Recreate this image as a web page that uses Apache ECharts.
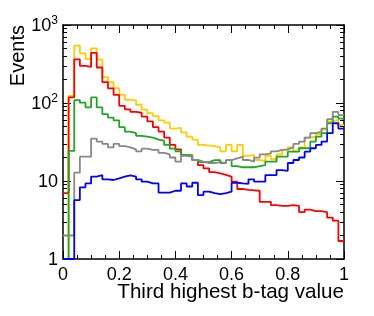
<!DOCTYPE html>
<html><head><meta charset="utf-8">
<script src="https://cdn.jsdelivr.net/npm/echarts@6/dist/echarts.min.js"></script>
<style>html,body{margin:0;padding:0;background:#fff}#c{width:374px;height:316px}</style>
</head><body><div id="c"></div>
<script>
const binWidth = 0.02;
const xTickLabels = ['0', '0.2', '0.4', '0.6', '0.8', '1'];
const yMinorTicks = [2,3,4,5,6,7,8,9,20,30,40,50,60,70,80,90,200,300,400,500,600,700,800,900];

const yellow = [1, 123, 545, 434, 365, 503, 360, 215, 185, 155, 128, 110, 108, 95, 82, 74, 68, 60, 56, 47, 48, 42, 37, 34, 29, 28.5, 28, 27, 24, 29, 24, 29, 21, 21.5, 18.6, 18, 21, 19, 22, 25, 27, 24, 27, 36, 37, 40, 46, 58, 61, 52];
const red = [7, 118, 363, 300, 290, 440, 285, 185, 154, 127, 92, 83, 77, 75, 67, 58, 49, 43, 36, 29, 25.5, 21.5, 21, 18.6, 16, 14.5, 13, 12.5, 12, 11.4, 9.8, 7.9, 7.7, 7.6, 7.5, 5.4, 5.4, 4.9, 4.8, 4.8, 4.9, 4.8, 4.0, 4.3, 4.1, 4.1, 4.0, 3.4, 3.1, 1.7];
const green = [1, 24.3, 109, 101, 88, 118, 88, 72, 65, 60, 49, 43, 41, 38, 37, 36, 34, 33, 29, 26, 24, 21.5, 21.5, 18.6, 17.5, 17.5, 18.5, 18.5, 17, 18.5, 15.5, 15, 15, 15, 15.5, 16, 17.7, 17.7, 20.5, 20.5, 23.8, 23.8, 26.3, 26.3, 32, 37, 41, 55, 67, 63];
const gray = [2, 2, 12.8, 20.5, 20.5, 35, 32, 30, 27, 30, 28, 27, 25.5, 24, 26, 25, 25, 23, 22, 20, 17.7, 21, 20.5, 18.6, 17.7, 17, 17, 17.5, 17, 18.5, 19.5, 20.5, 18.6, 17.7, 19.9, 22, 22.6, 24, 25, 25.5, 27, 30, 32, 36, 41, 43, 47, 62, 77, 70];
const blue = [1, 1, 5.7, 8.3, 9.3, 11.4, 11.9, 10.5, 10.3, 10.8, 11.4, 11.8, 11.4, 10.5, 9.8, 9.3, 9.3, 7.1, 7.1, 7.5, 7.5, 9.3, 8.5, 9.5, 6.6, 7.3, 7.0, 6.8, 7.0, 7.3, 9.5, 9.3, 9.2, 10.5, 9.8, 9.8, 11.9, 11.9, 13.8, 13.5, 17, 18.6, 20, 23.8, 26.3, 29, 32, 41, 55, 47];

function stepData(vals) {
  const d = vals.map((v, i) => [+(i * binWidth).toFixed(2), v]);
  d.push([+(vals.length * binWidth).toFixed(2), vals[vals.length - 1]]);
  return d;
}
const FONT = 'Liberation Sans';
const axisLineStyle = {color: '#000', width: 1.5};
function xAxisDef(pos, showLabel) {
  return {
    type: 'value', min: 0, max: 1, interval: 0.2, position: pos,
    axisLine: {show: true, onZero: false, lineStyle: axisLineStyle},
    axisTick: {show: true, inside: true, length: 8, lineStyle: {color: '#000', width: 1}},
    minorTick: {show: true, splitNumber: 4, length: 4, lineStyle: {color: '#000', width: 1}},
    splitLine: {show: false}, minorSplitLine: {show: false},
    axisLabel: {show: showLabel, fontFamily: FONT, fontSize: 18, color: '#000', margin: 7,
      formatter: v => xTickLabels[Math.round(v / 0.2)]}
  };
}
function yAxisDef(pos, showLabel, minor) {
  const a = {
    type: 'log', logBase: 10, min: 1, max: 1000, position: pos,
    axisLine: {show: true, onZero: false, lineStyle: axisLineStyle},
    axisTick: {show: true, inside: true, length: minor ? 4 : 8, lineStyle: {color: '#000', width: 1}},
    splitLine: {show: false},
    axisLabel: {show: showLabel, fontFamily: FONT, color: '#000', margin: 5,
      formatter: v => {
        const e = Math.round(Math.log10(v));
        if (e <= 1) return '{b|' + v + '}';
        return '{b|10}{s|' + e + '}';
      },
      rich: {
        b: {fontFamily: FONT, fontSize: 18, color: '#000', lineHeight: 20, verticalAlign: 'bottom'},
        s: {fontFamily: FONT, fontSize: 12, color: '#000', lineHeight: 20, verticalAlign: 'top', padding: [0, 0, 0, 0]}
      }
    }
  };
  if (minor) { a.axisTick.customValues = yMinorTicks; a.axisLine.show = false; }
  return a;
}
const chart = echarts.init(document.getElementById('c'), null, {renderer: 'canvas'});
function mk(name, vals, color) {
  return {name: name, type: 'line', step: 'end', data: stepData(vals), xAxisIndex: 0, yAxisIndex: 0,
    showSymbol: false, symbol: 'none', clip: true, animation: false,
    lineStyle: {color: color, width: 1.8}, itemStyle: {color: color}};
}
chart.setOption({
  animation: false,
  backgroundColor: '#fff',
  grid: {left: 63, top: 25, width: 281, height: 234, outerBoundsMode: 'none', containLabel: false},
  xAxis: [xAxisDef('bottom', true), xAxisDef('top', false)],
  yAxis: [yAxisDef('left', true, false), yAxisDef('left', false, true), yAxisDef('right', false, false), yAxisDef('right', false, true)],
  series: [
    mk('yellow', yellow, '#ffcc00'),
    mk('red', red, '#ff0000'),
    mk('green', green, '#22a622'),
    mk('gray', gray, '#888888'),
    mk('blue', blue, '#0000ff')
  ],
  graphic: [
    {type: 'text', x: 344, y: 292, style: {text: 'Third highest b-tag value', font: '20.6px "Liberation Sans"', fill: '#000', align: 'right', verticalAlign: 'middle'}},
    {type: 'text', x: 18, y: 25, rotation: Math.PI / 2, style: {text: 'Events', font: '20px "Liberation Sans"', fill: '#000', align: 'right', verticalAlign: 'middle'}}
  ]
});
</script>
</body></html>
